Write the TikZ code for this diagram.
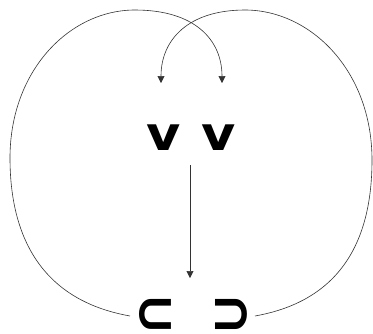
\documentclass[tikz,border=0pt]{standalone}
\usepackage{fontspec}
\newfontfamily\symfont{DejaVu Sans}
\usetikzlibrary{arrows.meta}

\tikzset{
  sym/.style={font=\symfont\bfseries\fontsize{47}{47}\selectfont, inner sep=0pt, xscale=1.12},
  subs/.style={font=\symfont\bfseries\fontsize{50}{50}\selectfont, inner sep=0pt, yscale=1.22},
  link/.style={draw=black!80, line width=0.6pt, -{Triangle[width=7pt,length=7pt]}}
}

\begin{document}
\begin{tikzpicture}[x=1pt,y=-1pt]
    \useasboundingbox (0,0) rectangle (373,333);
    \clip (0,0) rectangle (373,333);

    % Symbols
    \node[sym] (vl) at (163.5,137.5) {v};
    \node[sym] (vr) at (219,137.5) {v};
    \node[subs] (cl) at (155,316) {⊂};
    \node[subs] (cr) at (231.5,316) {⊃};

    % Free ends
    \coordinate (tl) at (161,83);
    \coordinate (tr) at (222,83);
    \coordinate (mtop) at (190,165);
    \coordinate (mbot) at (190,278);
    \coordinate (ol) at (130,316);
    \coordinate (or) at (255,316);

    % Loops round the outside
    \draw[link] (ol) .. controls (40,300) and (10,235) .. (10,158)
        .. controls (10,70) and (70,10) .. (135,10)
        .. controls (195,10) and (222,40) .. (tr);
    \draw[link] (or) .. controls (345,300) and (372,235) .. (372,160)
        .. controls (372,70) and (310,10) .. (245,10)
        .. controls (188,10) and (161,40) .. (tl);

    % Middle arrow
    \draw[link] (mtop) -- (mbot);
\end{tikzpicture}
\end{document}
